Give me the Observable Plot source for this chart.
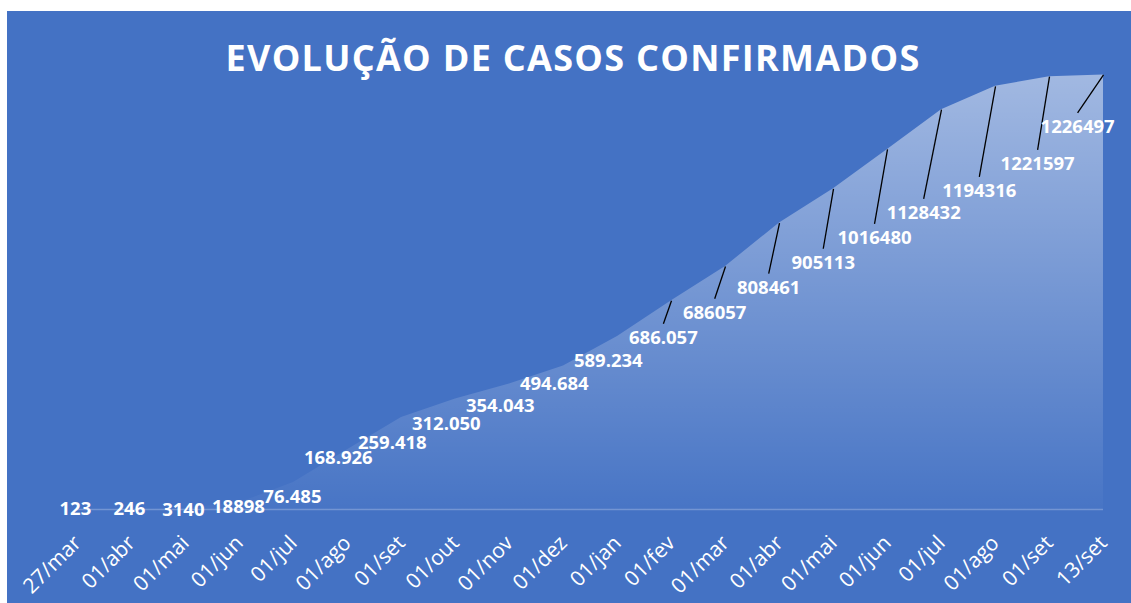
<!DOCTYPE html>
<html><head><meta charset="utf-8">
<script src="https://cdn.jsdelivr.net/npm/d3@7"></script>
<script src="https://cdn.jsdelivr.net/npm/@observablehq/plot@0.6"></script>
<style>
html,body{margin:0;padding:0;background:#fff;}
#chart{position:absolute;left:7px;top:11px;width:1124px;height:592px;background:#4472C4;overflow:hidden;}
#title{position:absolute;left:8px;right:0;top:29px;text-align:center;font:700 36px "Open Sans",sans-serif;line-height:36px;letter-spacing:1.3px;color:#fff;white-space:nowrap;}
#plot{position:absolute;left:0;top:0;}
</style></head><body>
<div id="chart"><div id="plot"></div><div id="title">EVOLUÇÃO DE CASOS CONFIRMADOS</div></div>
<script>
// categories (x axis tick labels)
const categories = ["27/mar","01/abr","01/mai","01/jun","01/jul","01/ago","01/set","01/out","01/nov","01/dez",
  "01/jan","01/fev","01/mar","01/abr","01/mai","01/jun","01/jul","01/ago","01/set","13/set"];
// confirmed cases (area heights)
const cases = [123, 246, 3140, 18898, 76485, 168926, 259418, 312050, 354043, 405000,
  488000, 589234, 686057, 808461, 905113, 1016480, 1128432, 1194316, 1221597, 1226497];
// data label texts as shown
const labelTexts = ["123","246","3140","18898","76.485","168.926","259.418","312.050","354.043","494.684",
  "589.234","686.057","686057","808461","905113","1016480","1128432","1194316","1221597","1226497"];
// manual data-label placement (category index, case level), as laid out in the original
const labelIndex = [-0.04, 0.96, 1.96, 2.98, 3.98, 4.83, 5.83, 6.83, 7.83, 8.83,
  9.83, 10.85, 11.80, 12.80, 13.81, 14.76, 15.67, 16.70, 17.78, 18.52];
const labelLevel = [39500, 39500, 36700, 45100, 73300, 183300, 228400, 282000, 332800, 394800,
  459700, 524500, 595000, 665500, 736000, 806500, 877000, 939100, 1015200, 1119600];
const withLeader = [false,false,false,false,false,false,false,false,false,false,
  false,true,true,true,true,true,true,true,true,true];

const data = categories.map((c, i) => ({i, c, v: cases[i], t: labelTexts[i], lx: labelIndex[i], ly: labelLevel[i], leader: withLeader[i]}));

const svg = Plot.plot({
  width: 1124, height: 592,
  marginLeft: 70, marginRight: 28, marginTop: 2, marginBottom: 94,
  style: {background: "transparent", color: "#fff", fontFamily: "'Open Sans', sans-serif", overflow: "visible"},
  x: {type: "linear", domain: [0, categories.length - 1]},
  y: {domain: [0, 1400000], axis: null},
  marks: [
    Plot.areaY(data, {x: "i", y: "v", fill: "white"}),
    Plot.ruleY([0], {stroke: "#ffffff", strokeOpacity: 0.25, strokeWidth: 1.5}),
    Plot.link(data.filter(d => d.leader), {x1: "lx", y1: "ly", x2: "i", y2: "v", stroke: "#000", strokeWidth: 1.3}),
    Plot.text(data, {x: "lx", y: "ly", text: "t", dy: 14, fill: "#fff", fontWeight: "bold", fontSize: 18.5, textAnchor: "middle"}),
    Plot.axisX({ticks: d3.range(categories.length), tickFormat: i => categories[i], tickRotate: -45, tickSize: 0, tickPadding: 30, fontSize: 21})
  ]
});
const defs = document.createElementNS("http://www.w3.org/2000/svg", "defs");
defs.innerHTML = '<linearGradient id="areaGrad" x1="0" y1="0" x2="0" y2="1"><stop offset="0" stop-color="#fff" stop-opacity="0.5"/><stop offset="1" stop-color="#fff" stop-opacity="0.02"/></linearGradient>';
svg.insertBefore(defs, svg.firstChild);
const ag = svg.querySelector('g[aria-label="area"]');
ag.setAttribute("fill", "url(#areaGrad)");
ag.querySelectorAll("path").forEach(p => p.setAttribute("fill", "url(#areaGrad)"));
document.getElementById("plot").appendChild(svg);
</script>
</body></html>
